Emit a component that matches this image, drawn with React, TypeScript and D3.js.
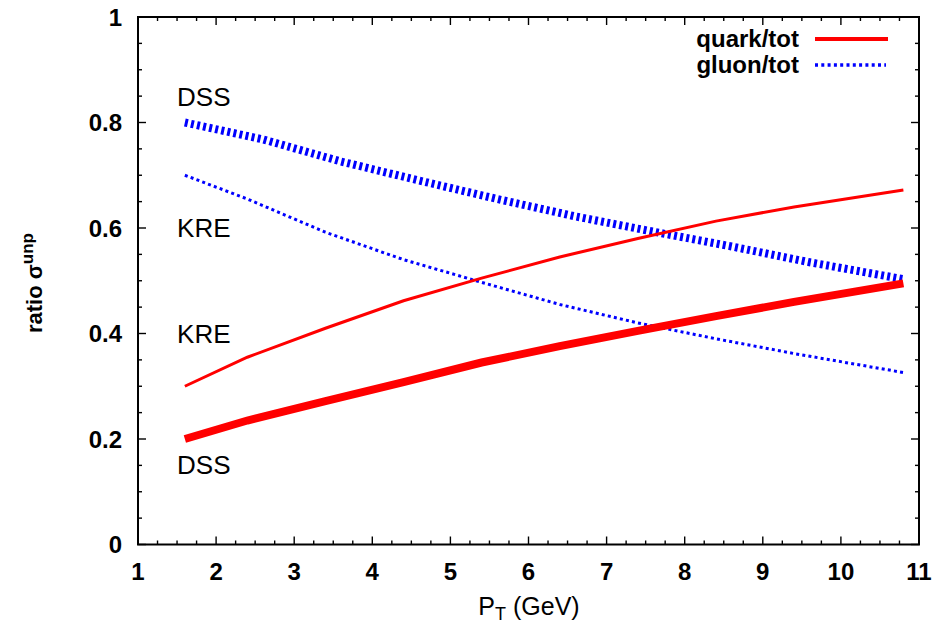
import React from 'react'
import * as d3 from 'd3'

// P_T grid (GeV)
const ptQuarkKRE = [1.6, 2.4, 3.4, 4.4, 5.4, 6.4, 7.4, 8.4, 9.4, 10.8]
const quarkKRE = [0.30, 0.355, 0.41, 0.462, 0.505, 0.545, 0.58, 0.613, 0.64, 0.672]

const ptQuarkDSS = [1.6, 2.4, 3.4, 4.4, 5.4, 6.4, 7.4, 8.4, 9.4, 10.8]
const quarkDSS = [0.20, 0.235, 0.272, 0.308, 0.345, 0.376, 0.405, 0.433, 0.46, 0.495]

const ptGluonDSS = [1.6, 2.6, 3.6, 4.6, 5.6, 6.6, 7.6, 8.6, 9.6, 10.8]
const gluonDSS = [0.80, 0.768, 0.726, 0.69, 0.655, 0.622, 0.593, 0.565, 0.535, 0.503]

const ptGluonKRE = [1.6, 2.4, 3.4, 4.4, 5.4, 6.4, 7.4, 8.4, 9.4, 10.8]
const gluonKRE = [0.70, 0.655, 0.592, 0.54, 0.497, 0.455, 0.42, 0.39, 0.362, 0.326]

const xTicks = [1, 2, 3, 4, 5, 6, 7, 8, 9, 10, 11]
const yTicks = [0, 0.2, 0.4, 0.6, 0.8, 1]

const labels = [
  { text: 'DSS', x: 1.5, y: 0.831 },
  { text: 'KRE', x: 1.5, y: 0.583 },
  { text: 'KRE', x: 1.5, y: 0.382 },
  { text: 'DSS', x: 1.5, y: 0.134 },
]

const W = 939
const H = 626
const left = 138, right = 919, top = 17, bottom = 544.5

export default function App() {
  const x = d3.scaleLinear().domain([1, 11]).range([left, right])
  const y = d3.scaleLinear().domain([0, 1]).range([bottom, top])

  const line = d3.line<[number, number]>()
    .x(d => x(d[0]))
    .y(d => y(d[1]))

  const zip = (a: number[], b: number[]) => a.map((v, i) => [v, b[i]] as [number, number])

  const xMinor = d3.range(1, 11.001, 0.25)
  const yMinor = d3.range(0, 1.001, 0.05)

  const font = '"Liberation Sans", Arial, Helvetica, sans-serif'

  return (
    <div style={{ position: 'absolute', left: 0, top: 0 }}>
      <svg width={W} height={H} style={{ display: 'block', background: '#fff' }} fontFamily={font}>
        {/* data lines */}
        <path d={line(zip(ptGluonDSS, gluonDSS)) || ''} fill="none" stroke="#0000ff" strokeWidth={8} strokeDasharray="3,3.2" />
        <path d={line(zip(ptGluonKRE, gluonKRE)) || ''} fill="none" stroke="#0000ff" strokeWidth={3} strokeDasharray="3,3.2" />
        <path d={line(zip(ptQuarkKRE, quarkKRE)) || ''} fill="none" stroke="#ff0000" strokeWidth={3} />
        <path d={line(zip(ptQuarkDSS, quarkDSS)) || ''} fill="none" stroke="#ff0000" strokeWidth={8} />

        {/* ticks */}
        {xMinor.map((v, i) => {
          const major = Math.abs(v - Math.round(v)) < 1e-6
          const len = major ? 8 : 4
          return (
            <g key={'xt' + i} stroke="#000" strokeWidth={1.4}>
              <line x1={x(v)} x2={x(v)} y1={bottom} y2={bottom - len} />
              <line x1={x(v)} x2={x(v)} y1={top} y2={top + len} />
            </g>
          )
        })}
        {yMinor.map((v, i) => {
          const major = Math.abs(v * 5 - Math.round(v * 5)) < 1e-6
          const len = major ? 8 : 4
          return (
            <g key={'yt' + i} stroke="#000" strokeWidth={1.4}>
              <line x1={left} x2={left + len} y1={y(v)} y2={y(v)} />
              <line x1={right} x2={right - len} y1={y(v)} y2={y(v)} />
            </g>
          )
        })}

        {/* frame */}
        <rect x={left} y={top} width={right - left} height={bottom - top} fill="none" stroke="#000" strokeWidth={2} />

        {/* tick labels */}
        {xTicks.map(v => (
          <text key={'xl' + v} x={x(v)} y={580} textAnchor="middle" fontSize={24} fontWeight="bold">{v}</text>
        ))}
        {yTicks.map(v => (
          <text key={'yl' + v} x={122} y={y(v) + 8.5} textAnchor="end" fontSize={24} fontWeight="bold">{v === 0 || v === 1 ? String(v) : v.toFixed(1)}</text>
        ))}

        {/* axis titles */}
        <text x={529} y={615} textAnchor="middle" fontSize={25}>
          P<tspan dy={5} fontSize={18}>T</tspan><tspan dy={-5}> (GeV)</tspan>
        </text>
        <text transform="translate(42,283) rotate(-90)" textAnchor="middle" fontSize={22} fontWeight="bold">
          ratio σ<tspan dy={-9} fontSize={17}>unp</tspan>
        </text>

        {/* curve labels */}
        {labels.map((l, i) => (
          <text key={'lab' + i} x={x(l.x)} y={y(l.y)} fontSize={26}>{l.text}</text>
        ))}

        {/* legend */}
        <text x={799} y={47} textAnchor="end" fontSize={24} fontWeight="bold">quark/tot</text>
        <line x1={815} x2={888} y1={39} y2={39} stroke="#ff0000" strokeWidth={4} />
        <text x={799} y={73} textAnchor="end" fontSize={24} fontWeight="bold">gluon/tot</text>
        <line x1={815} x2={886} y1={65} y2={65} stroke="#0000ff" strokeWidth={3.5} strokeDasharray="3,3.3" />
      </svg>
    </div>
  )
}
